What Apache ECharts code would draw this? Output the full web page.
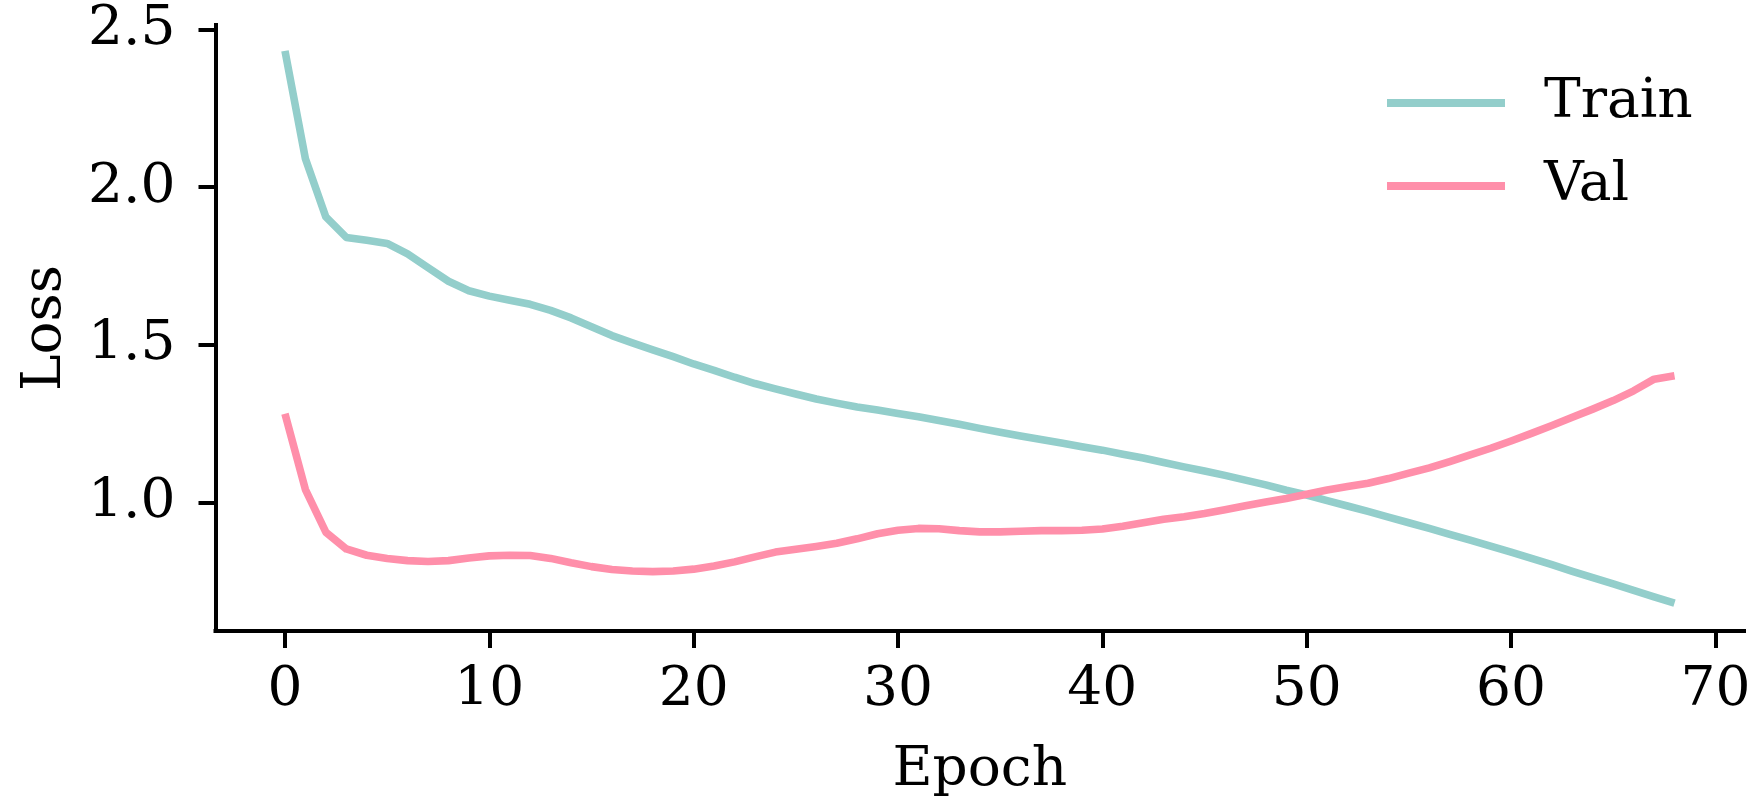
<!DOCTYPE html>
<html>
<head>
<meta charset="utf-8">
<title>Loss</title>
<script src="https://cdn.jsdelivr.net/npm/echarts@6/dist/echarts.min.js"></script>
<style>
  html, body { margin: 0; padding: 0; background: #ffffff; }
  #chart { width: 1755px; height: 803px; }
</style>
</head>
<body>
<div id="chart"></div>
<script>
// Epoch index for each recorded loss value
const epochs = [
  0, 1, 2, 3, 4, 5, 6, 7, 8, 9,
  10, 11, 12, 13, 14, 15, 16, 17, 18, 19,
  20, 21, 22, 23, 24, 25, 26, 27, 28, 29,
  30, 31, 32, 33, 34, 35, 36, 37, 38, 39,
  40, 41, 42, 43, 44, 45, 46, 47, 48, 49,
  50, 51, 52, 53, 54, 55, 56, 57, 58, 59,
  60, 61, 62, 63, 64, 65, 66, 67, 68
];

// Training loss per epoch
const trainLoss = [
  2.432, 2.090, 1.906, 1.841, 1.832, 1.822, 1.789, 1.745, 1.702, 1.672,
  1.655, 1.642, 1.629, 1.610, 1.586, 1.558, 1.530, 1.507, 1.485, 1.463,
  1.440, 1.420, 1.398, 1.378, 1.361, 1.345, 1.329, 1.316, 1.304, 1.294,
  1.283, 1.273, 1.261, 1.249, 1.236, 1.224, 1.212, 1.201, 1.190, 1.178,
  1.167, 1.154, 1.142, 1.128, 1.114, 1.101, 1.087, 1.072, 1.057, 1.040,
  1.025, 1.007, 0.990, 0.973, 0.955, 0.937, 0.919, 0.900, 0.882, 0.863,
  0.844, 0.824, 0.804, 0.783, 0.763, 0.743, 0.723, 0.702, 0.682
];

// Validation loss per epoch
const valLoss = [
  1.282, 1.042, 0.907, 0.854, 0.834, 0.824, 0.817, 0.814, 0.817, 0.825,
  0.832, 0.834, 0.833, 0.824, 0.810, 0.798, 0.789, 0.784, 0.782, 0.784,
  0.790, 0.800, 0.813, 0.829, 0.844, 0.853, 0.862, 0.872, 0.886, 0.902,
  0.913, 0.919, 0.918, 0.912, 0.908, 0.908, 0.910, 0.912, 0.912, 0.913,
  0.917, 0.926, 0.937, 0.948, 0.956, 0.966, 0.978, 0.991, 1.003, 1.014,
  1.027, 1.041, 1.052, 1.062, 1.077, 1.094, 1.111, 1.131, 1.152, 1.173,
  1.196, 1.220, 1.245, 1.271, 1.297, 1.324, 1.355, 1.392, 1.403
];

// Tick positions on both axes
const xTicks = [0, 10, 20, 30, 40, 50, 60, 70];
const yTicks = [1.0, 1.5, 2.0, 2.5];

const seriesNames = ['Train', 'Val'];
const seriesColors = ['#93CECB', '#FF8FAA'];

const FONT = "'DejaVu Serif', serif";
const INK = '#000000';

const toPairs = (xs, ys) => xs.map((x, i) => [x, ys[i]]);

const chart = echarts.init(document.getElementById('chart'), null, { renderer: 'canvas' });

const axisLineStyle = { color: INK, width: 4, cap: 'square' };

chart.setOption({
  animation: false,
  backgroundColor: '#ffffff',
  grid: { left: 215.5, right: 11, top: 25, bottom: 168, containLabel: false },
  legend: {
    orient: 'vertical',
    left: 1382,
    top: 68,
    icon: 'rect',
    itemWidth: 118,
    itemHeight: 8,
    itemGap: 23,
    data: seriesNames,
    textStyle: {
      fontFamily: FONT,
      fontSize: 55,
      lineHeight: 60,
      color: INK,
      padding: [0, 0, 0, 34]
    }
  },
  xAxis: {
    type: 'value',
    min: -3.4,
    max: 71.4,
    name: 'Epoch',
    nameLocation: 'middle',
    nameGap: 112,
    nameTextStyle: { fontFamily: FONT, fontSize: 55, color: INK },
    axisLine: { show: true, onZero: false, lineStyle: axisLineStyle },
    axisTick: { show: true, length: 17, lineStyle: { color: INK, width: 4 }, customValues: xTicks },
    axisLabel: {
      fontFamily: FONT, fontSize: 55, color: INK, margin: 32,
      customValues: xTicks,
      formatter: v => String(v)
    },
    splitLine: { show: false }
  },
  yAxis: {
    type: 'value',
    min: 0.594,
    max: 2.514,
    name: 'Loss',
    nameLocation: 'middle',
    nameRotate: 90,
    nameGap: 142,
    nameTextStyle: { fontFamily: FONT, fontSize: 55, color: INK },
    axisLine: { show: true, onZero: false, lineStyle: axisLineStyle },
    axisTick: { show: true, length: 17, lineStyle: { color: INK, width: 4 }, customValues: yTicks },
    axisLabel: {
      fontFamily: FONT, fontSize: 55, color: INK, margin: 40,
      customValues: yTicks,
      formatter: v => v.toFixed(1)
    },
    splitLine: { show: false }
  },
  series: [
    {
      name: seriesNames[0],
      type: 'line',
      data: toPairs(epochs, trainLoss),
      symbol: 'none',
      showSymbol: false,
      smooth: false,
      color: seriesColors[0],
      lineStyle: { color: seriesColors[0], width: 7.6, cap: 'butt', join: 'round' }
    },
    {
      name: seriesNames[1],
      type: 'line',
      data: toPairs(epochs, valLoss),
      symbol: 'none',
      showSymbol: false,
      smooth: false,
      color: seriesColors[1],
      lineStyle: { color: seriesColors[1], width: 7.6, cap: 'butt', join: 'round' }
    }
  ]
});
</script>
</body>
</html>
